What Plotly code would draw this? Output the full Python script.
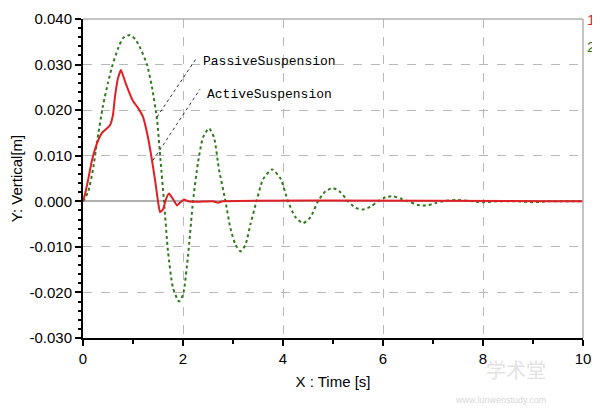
import plotly.graph_objects as go

# Passive suspension (curve 2, green dotted)
passive_t = [0, 0.1, 0.2, 0.28, 0.4, 0.5, 0.58, 0.7, 0.8, 0.94, 1.05, 1.15, 1.28, 1.38, 1.48, 1.55, 1.62,
             1.7, 1.8, 1.92, 2.0, 2.1, 2.2, 2.3, 2.4, 2.52, 2.62, 2.72, 2.85, 2.95, 3.05, 3.15, 3.25, 3.35,
             3.47, 3.6, 3.78, 3.95, 4.1, 4.25, 4.4, 4.55, 4.7, 4.85, 5.0, 5.15, 5.3, 5.45, 5.6, 5.75, 5.9,
             6.05, 6.2, 6.35, 6.5, 6.7, 6.87, 7.05, 7.2, 7.48, 7.7, 8.0, 8.3, 8.7, 9.0, 9.3, 10]
passive_y = [0, 0.002, 0.007, 0.013, 0.021, 0.026, 0.0295, 0.0335, 0.0358, 0.0365, 0.0355, 0.0335, 0.030,
             0.025, 0.018, 0.009, 0.0, -0.011, -0.019, -0.022, -0.0205, -0.012, 0.0, 0.0085, 0.014, 0.016,
             0.014, 0.007, 0.0, -0.006, -0.0095, -0.011, -0.0095, -0.005, 0.0, 0.0048, 0.0070, 0.005, 0.0,
             -0.0035, -0.0048, -0.0035, 0.0, 0.0022, 0.0029, 0.002, 0.0, -0.0014, -0.0018, -0.0012, 0.0,
             0.0009, 0.0011, 0.0006, 0.0, -0.0008, -0.0009, -0.0004, 0.0, 0.0003, 0.0001, -0.0002, 0.0,
             0.0, -0.0002, 0.0, 0]

# Active suspension (curve 1, red solid)
active_t = [0, 0.05, 0.1, 0.18, 0.28, 0.38, 0.48, 0.54, 0.6, 0.64, 0.7, 0.76, 0.85, 1.0, 1.1, 1.2, 1.3,
            1.38, 1.45, 1.5, 1.54, 1.6, 1.66, 1.72, 1.8, 1.88, 1.95, 2.02, 2.1, 2.3, 2.6, 2.7, 2.8, 10]
active_y = [0, 0.002, 0.0046, 0.009, 0.0127, 0.015, 0.016, 0.0167, 0.019, 0.023, 0.027, 0.0288, 0.026,
            0.022, 0.0205, 0.0185, 0.014, 0.009, 0.004, 0.0, -0.0024, -0.0018, 0.0005, 0.0017, 0.0005,
            -0.0009, -0.0002, 0.0004, 0.0, -0.0001, 0.0, -0.0003, 0.0, 0]

x_ticks = [0, 2, 4, 6, 8, 10]
y_ticks = [-0.03, -0.02, -0.01, 0.0, 0.01, 0.02, 0.03, 0.04]
y_tick_text = ["-0.030", "-0.020", "-0.010", "0.000", "0.010", "0.020", "0.030", "0.040"]

RED = "#e01f26"
GREEN = "#2f7a1c"
NARROW = "Liberation Sans Narrow, Arial Narrow, Liberation Sans, Arial, sans-serif"
MONO = "Liberation Mono, DejaVu Sans Mono, monospace"

fig = go.Figure()
fig.add_trace(go.Scatter(x=passive_t, y=passive_y, mode="lines",
                         line=dict(color=GREEN, width=2, dash="3px,3px", shape="spline", smoothing=0.6),
                         name="2", showlegend=False))
fig.add_trace(go.Scatter(x=active_t, y=active_y, mode="lines",
                         line=dict(color=RED, width=2, shape="spline", smoothing=0.4),
                         name="1", showlegend=False))

# leader lines
fig.add_shape(type="line", x0=1.48, y0=0.0185, x1=2.28, y1=0.0316,
              line=dict(color="black", width=0.8, dash="dot"))
fig.add_shape(type="line", x0=1.40, y0=0.009, x1=2.34, y1=0.0246,
              line=dict(color="black", width=0.8, dash="dot"))
# top and right border in gray
fig.add_shape(type="line", xref="paper", yref="paper", x0=0, y0=1, x1=1, y1=1,
              line=dict(color="#b0b0b0", width=1.5))
fig.add_shape(type="line", xref="paper", yref="paper", x0=1, y0=0, x1=1, y1=1,
              line=dict(color="#b0b0b0", width=1.5))

fig.add_annotation(x=2.36, y=0.0306, text="PassiveSuspension", showarrow=False, xanchor="left",
                   font=dict(family=MONO, size=13, color="black"))
fig.add_annotation(x=2.44, y=0.0235, text="ActiveSuspension", showarrow=False, xanchor="left",
                   font=dict(family=MONO, size=13, color="black"))

fig.add_annotation(xref="paper", yref="paper", x=1.004, y=1.0, text="1", showarrow=False,
                   xanchor="left", yanchor="middle", font=dict(family=NARROW, size=15, color=RED))
fig.add_annotation(xref="paper", yref="paper", x=1.004, y=0.915, text="2", showarrow=False,
                   xanchor="left", yanchor="middle", font=dict(family=NARROW, size=15, color=GREEN))

# faint watermark
fig.add_annotation(xref="paper", yref="paper", x=0.93, y=-0.15, text="学术堂", showarrow=False,
                   font=dict(family="Noto Sans CJK SC", size=20, color="rgba(222,222,222,0.9)"))
fig.add_annotation(xref="paper", yref="paper", x=0.93, y=-0.215, text="www.lunwenstudy.com", showarrow=False,
                   font=dict(family="Liberation Sans", size=9, color="rgba(210,210,210,0.9)"))

fig.update_xaxes(range=[0, 10], tickvals=x_ticks, showline=True, linecolor="black", linewidth=2,
                 ticks="outside", ticklen=6, tickwidth=2, tickcolor="black", automargin=False,
                 minor=dict(dtick=1, ticks="outside", ticklen=4, tickcolor="black", tickwidth=1.5, showgrid=False),
                 showgrid=True, gridcolor="#b8b8b8", griddash="dash", gridwidth=1, zeroline=False,
                 tickfont=dict(family=NARROW, size=15, color="black"),
                 title=dict(text="X : Time [s]", font=dict(family=NARROW, size=15, color="black"), standoff=10))
fig.update_yaxes(range=[-0.03, 0.04], tickvals=y_ticks, ticktext=y_tick_text, showline=True,
                 linecolor="black", linewidth=2, automargin=False,
                 ticks="outside", ticklen=6, tickwidth=2, tickcolor="black",
                 minor=dict(dtick=0.002, ticks="outside", ticklen=3, tickcolor="black", tickwidth=1.5, showgrid=False),
                 showgrid=True, gridcolor="#b8b8b8", griddash="dash", gridwidth=1,
                 zeroline=True, zerolinecolor="#b0b0b0", zerolinewidth=1.5,
                 tickfont=dict(family=NARROW, size=15, color="black"),
                 title=dict(text="Y: Vertical[m]", font=dict(family=NARROW, size=15, color="black"), standoff=8))

# page body has an 8px default margin, so the figure is 8px smaller and shifted accordingly
fig.update_layout(width=592, height=406, margin=dict(l=75, r=17, t=11, b=76),
                  paper_bgcolor="white", plot_bgcolor="white")

fig.write_html("out.html")
